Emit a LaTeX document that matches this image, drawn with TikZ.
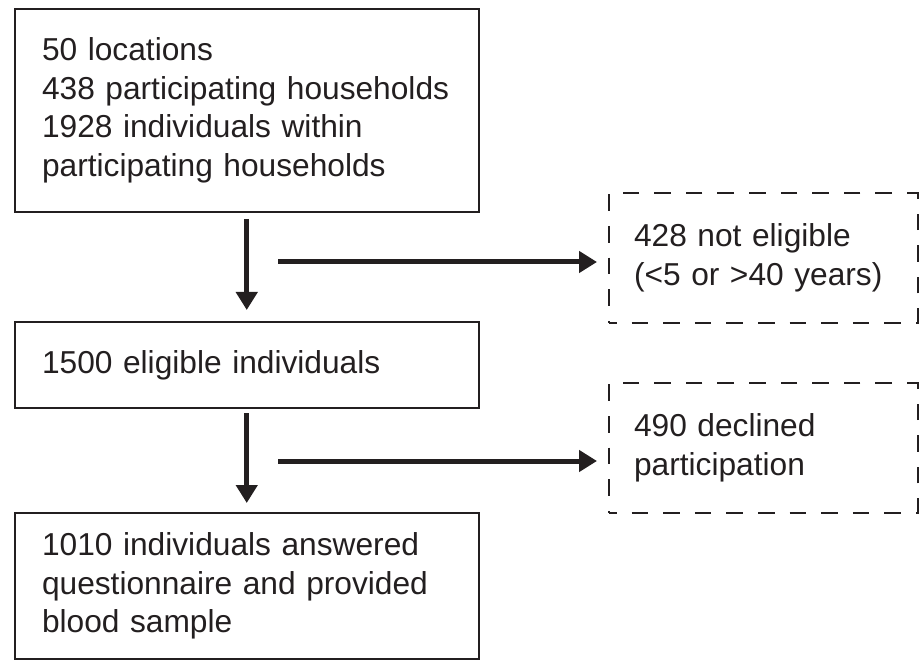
\documentclass[tikz,border=0pt]{standalone}
\usepackage{fontspec}
\setmainfont{Liberation Sans}
\usetikzlibrary{arrows.meta}
\definecolor{ink}{HTML}{231F20}

\begin{document}
\begin{tikzpicture}[x=1pt, y=-1pt,
  box/.style={draw=ink, line width=1pt, anchor=north west, outer sep=0pt, align=left, inner xsep=13.75pt, text width=204.75pt, text=ink, font=\fontsize{15.85pt}{19.25pt}\selectfont},
  dashbox/.style={box, line width=1.1pt, dash pattern=on 8.3pt off 7.5pt, dash phase=4.5pt, inner xsep=12.5pt, text width=129.5pt, minimum height=65pt},
  flow/.style={draw=ink, line width=2.5pt, -{Triangle[length=9pt, width=10.5pt]}}]
\useasboundingbox (0,0) rectangle (460,331);
\node[box, minimum height=101.5pt](locs) at (7.25,4.5){50 locations\\438 participating households\\1928 individuals within\\participating households};
\node[box, minimum height=43pt](elig) at (7.25,161){1500 eligible individuals};
\node[box, minimum height=73pt](sample) at (7.25,256.5){1010 individuals answered\\questionnaire and provided\\blood sample};
\node[dashbox](notelig) at (304.5,96.5){428 not eligible\\(<5 or >40 years)};
\node[dashbox](declined) at (304.5,191.5){490 declined\\participation};
\coordinate (out1) at (139,131);
\coordinate (out2) at (139,230.5);
\draw[flow, shorten <=3.5pt, shorten >=6pt] (locs) -- (elig);
\draw[flow, shorten <=2.5pt, shorten >=5pt] (elig) -- (sample);
\draw[flow, shorten >=6pt] (out1) -- (out1 -| notelig.west);
\draw[flow, shorten >=6pt] (out2) -- (out2 -| declined.west);
\end{tikzpicture}
\end{document}
